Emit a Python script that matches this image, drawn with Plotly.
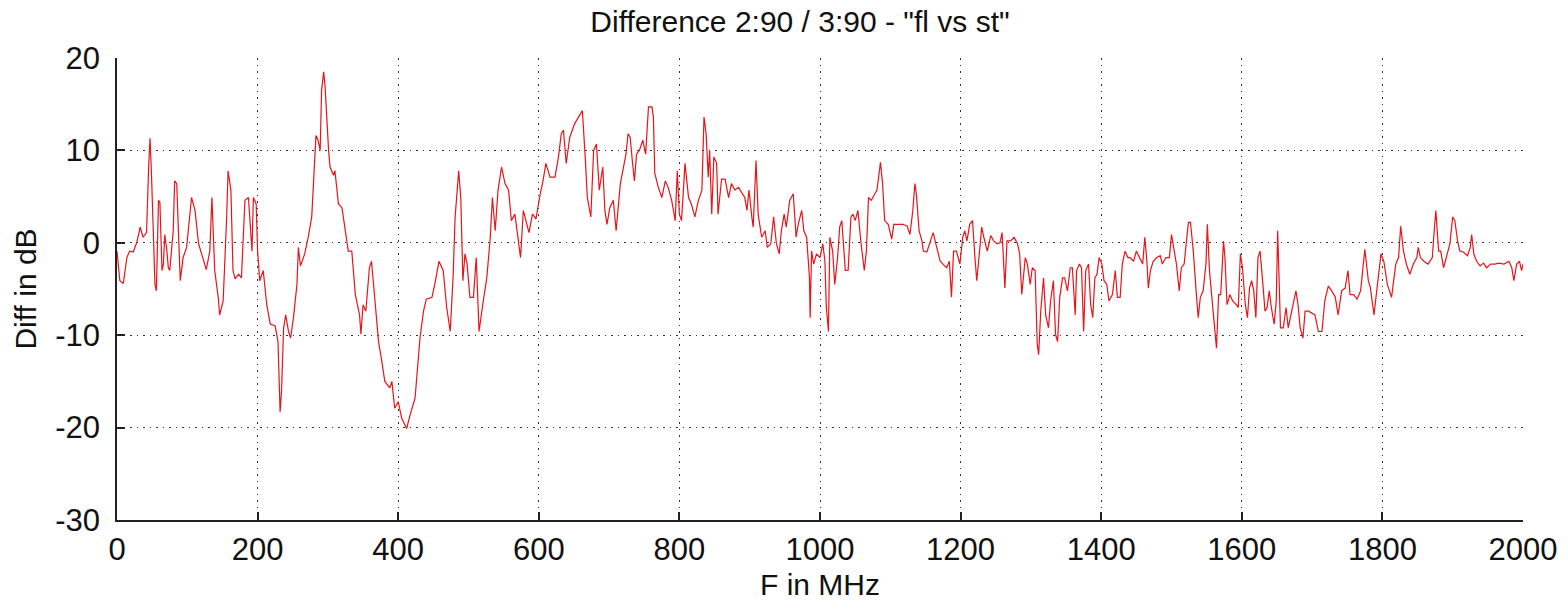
import plotly.graph_objects as go

# ---- data (MHz, dB) ----
freq_a = [0, 4, 9, 14, 18, 23, 28, 33, 37, 42,
          45, 47, 49, 52, 54, 56, 59, 61, 64, 66,
          68, 71, 73, 75, 80, 82, 85, 87, 90, 94,
          99, 106, 111, 116, 123, 127, 132, 135, 139, 144,
          146, 151, 156, 158, 162, 165, 168, 173, 177, 182,
          187, 192, 194, 198, 200, 203, 208, 213, 218, 225,
          229]
diff_a = [-0.9, -4.1, -4.4, -1.6, -0.9, -1.0, 0.0, 1.7, 0.6, 1.1,
          8.2, 11.3, 7.5, 0.6, -4.5, -5.2, 4.6, 4.4, -3.0, -2.3,
          0.9, -0.9, -2.7, -3.0, 1.3, 6.7, 6.4, 2.0, -4.1, -1.6,
          -0.5, 4.9, 3.5, -0.1, -2.0, -2.9, -0.9, 4.9, -3.0, -5.9,
          -7.8, -6.3, 2.8, 7.8, 5.7, -3.0, -3.9, -3.4, -3.8, 4.6,
          4.9, -0.9, 4.9, 4.2, -0.9, -4.1, -3.0, -6.7, -8.8, -9.0,
          -10.7]

freq_b = [232, 234, 237, 240, 244, 247, 251, 256, 258, 261,
          267, 272, 277, 279, 283, 286, 289, 291, 294, 296,
          298, 301, 303, 308, 310, 315, 320, 324, 329, 334,
          339, 345, 347, 350, 354, 359, 362, 367, 372, 376,
          381, 388, 391, 395, 400, 405, 412, 417, 424, 431,
          436, 440, 448, 452, 458, 464, 469]
diff_b = [-18.3, -16.1, -9.2, -7.8, -9.6, -10.3, -8.1, -4.5, -0.5, -2.5,
          -1.2, 0.6, 2.8, 5.7, 11.6, 11.1, 10.0, 16.5, 18.5, 16.9,
          13.6, 10.0, 8.2, 7.3, 7.8, 4.2, 3.8, 1.7, -0.9, -0.9,
          -5.6, -7.8, -9.9, -6.7, -7.4, -2.7, -2.0, -6.3, -10.7, -12.5,
          -15.0, -15.7, -15.0, -17.9, -17.2, -19.0, -20.1, -18.6, -16.8, -10.3,
          -7.4, -6.1, -5.9, -4.5, -2.0, -3.0, -7.0]

freq_c = [474, 478, 481, 486, 489, 492, 495, 498, 502, 507,
          511, 515, 521, 526, 531, 534, 538, 542, 547, 552,
          557, 561, 566, 571, 574, 578, 583, 586, 591, 596,
          602, 606, 610, 616, 623, 628, 632, 635, 639, 644,
          651, 659, 662, 666, 669, 674, 678, 682, 686, 691,
          694, 697, 701, 706, 710]
diff_c = [-9.6, -3.8, 2.8, 7.8, 4.9, -4.1, -1.2, -2.3, -5.9, -5.9,
          -1.6, -9.6, -6.3, -3.8, 0.6, 4.9, 1.3, 5.7, 8.2, 6.4,
          5.7, 2.4, 3.1, -0.1, -1.6, 3.5, 2.0, 1.1, 3.1, 2.6,
          5.3, 6.7, 8.6, 7.1, 7.1, 9.3, 11.8, 12.2, 8.6, 11.4,
          12.9, 14.0, 14.3, 9.3, 4.9, 2.8, 10.0, 10.7, 5.7, 8.2,
          3.5, 2.0, 3.8, 4.6, 1.3]

freq_d = [716, 720, 724, 727, 730, 733, 736, 739, 743, 748,
          752, 756, 761, 763, 765, 770, 775, 780, 784, 789,
          794, 797, 800, 803, 808, 813, 817, 822, 827, 832,
          835, 838, 841, 843, 846, 849, 853, 855, 860, 865,
          870, 874, 879, 884, 889, 893, 896, 899, 903, 905,
          909, 912, 917, 922, 925, 930, 934, 938, 942, 945,
          949, 952]
diff_d = [6.4, 8.2, 9.6, 11.8, 11.4, 8.9, 6.7, 9.6, 10.0, 11.1,
          9.6, 14.7, 14.7, 13.6, 7.5, 6.0, 4.9, 6.7, 6.0, 4.6,
          2.4, 7.8, 3.1, 2.4, 8.6, 4.9, 4.2, 2.8, 4.6, 5.7,
          13.6, 11.8, 7.1, 10.0, 3.1, 9.3, 8.6, 3.1, 6.9, 6.9,
          4.9, 6.4, 5.7, 6.0, 5.3, 4.9, 3.5, 5.7, 2.8, 1.7,
          8.9, 3.1, 0.6, 1.3, -0.5, -0.1, 2.8, -0.1, -1.2, 1.3,
          3.1, 1.7]

freq_e = [957, 962, 966, 969, 974, 977, 981, 985, 986, 988,
          991, 995, 1000, 1004, 1007, 1009, 1012, 1014, 1018, 1021,
          1025, 1028, 1031, 1033, 1036, 1040, 1044, 1047, 1050, 1054,
          1058, 1063, 1066, 1069, 1073, 1078, 1081, 1084, 1086, 1089,
          1092, 1097, 1102, 1105, 1111, 1118, 1124, 1128, 1132, 1135,
          1137, 1141, 1145, 1147, 1152, 1156, 1161, 1166, 1171, 1175,
          1180, 1184, 1187, 1190, 1194]
diff_e = [4.6, 5.3, 0.6, 2.0, 3.5, 1.3, 0.6, -3.8, -8.1, -0.9,
          -2.3, -1.2, -1.6, -0.1, -2.0, -7.0, -9.6, 0.6, -0.9, -4.5,
          -1.6, 1.7, 2.4, 0.6, -3.0, -3.0, 2.8, 3.1, 2.4, 3.5,
          0.2, -3.0, -0.9, 4.9, 4.6, 5.3, 5.7, 7.5, 8.7, 6.4,
          2.4, 2.0, 0.4, 2.0, 2.0, 2.0, 1.8, 0.9, 3.5, 6.4,
          5.3, 1.3, 0.2, -0.9, -1.0, -0.1, 1.1, -0.5, -2.0, -2.3,
          -2.7, -2.0, -5.9, -0.9, -0.9]

freq_f = [1199, 1203, 1206, 1209, 1213, 1217, 1220, 1223, 1227, 1230,
          1233, 1238, 1243, 1247, 1252, 1256, 1259, 1263, 1266, 1271,
          1276, 1281, 1284, 1287, 1292, 1295, 1299, 1302, 1306, 1309,
          1311, 1314, 1318, 1321, 1325, 1328, 1332, 1335, 1338, 1341,
          1345, 1348, 1352, 1356, 1359, 1363, 1365, 1369, 1372, 1375,
          1378, 1382, 1385, 1388, 1391, 1394, 1397, 1401, 1404, 1408,
          1411, 1416, 1420, 1423, 1427, 1430, 1434, 1438]
diff_f = [-2.3, 0.6, 1.3, 0.2, 2.0, 2.4, -1.2, -4.1, -0.9, 1.7,
          0.6, -0.9, 0.8, 0.2, -0.1, 0.0, 1.1, -4.9, 0.2, 0.2,
          0.6, -0.1, -1.2, -5.6, -1.6, -2.3, -4.5, -2.7, -3.0, -11.0,
          -12.1, -7.4, -3.8, -7.8, -9.2, -6.3, -4.1, -9.9, -10.7, -5.9,
          -3.8, -3.8, -5.2, -2.7, -2.7, -7.8, -3.0, -2.3, -2.7, -9.6,
          -3.0, -2.3, -6.7, -8.1, -3.8, -3.4, -1.6, -2.3, -4.1, -4.5,
          -6.3, -5.6, -3.0, -5.9, -5.9, -2.3, -0.9, -1.6]

freq_g = [1441, 1446, 1450, 1455, 1459, 1462, 1465, 1467, 1470, 1474,
          1479, 1484, 1487, 1492, 1497, 1500, 1504, 1507, 1511, 1514,
          1518, 1522, 1524, 1527, 1531, 1535, 1538, 1541, 1545, 1549,
          1551, 1554, 1557, 1560, 1564, 1567, 1570, 1574, 1576, 1579,
          1583, 1587, 1592, 1595, 1598, 1601, 1605, 1608, 1611, 1614,
          1617, 1620, 1623, 1626, 1630, 1633, 1636, 1639, 1642, 1646,
          1649, 1651, 1653, 1655, 1659, 1663, 1666, 1669, 1673, 1677,
          1680]
diff_g = [-1.6, -2.0, -0.9, -1.6, -2.3, 0.6, -2.0, -4.9, -3.0, -2.0,
          -1.6, -1.4, -2.3, -1.6, -1.6, 0.9, -0.9, -2.3, -5.2, -2.7,
          -2.3, 0.6, 2.2, 2.2, -0.9, -5.2, -8.1, -5.9, -5.2, -2.3,
          2.0, -3.0, -5.2, -8.1, -11.4, -5.6, -5.6, 0.2, -1.6, -6.7,
          -5.6, -6.3, -6.7, -7.0, -1.2, -2.7, -6.7, -8.1, -4.9, -4.1,
          -5.2, -8.1, -1.6, -0.9, -4.5, -7.4, -7.0, -5.2, -7.0, -8.8,
          -6.3, 1.3, -3.8, -9.2, -9.2, -7.0, -9.2, -8.1, -6.7, -5.2,
          -6.7]

freq_h = [1683, 1687, 1690, 1695, 1699, 1704, 1709, 1714, 1718, 1723,
          1728, 1733, 1737, 1742, 1747, 1751, 1754, 1759, 1764, 1769,
          1775, 1780, 1783, 1788, 1793, 1798, 1802, 1807, 1813, 1819,
          1823, 1826, 1830, 1834, 1839, 1844, 1849, 1851, 1854, 1859,
          1865, 1871, 1873, 1876, 1880, 1883, 1887, 1891, 1896, 1900,
          1903, 1907, 1910, 1915, 1921, 1925, 1927, 1930, 1934, 1939,
          1944, 1948, 1954, 1960, 1966, 1973, 1980, 1984, 1987, 1991,
          1995, 1998, 2000]
diff_h = [-9.2, -10.3, -7.4, -7.4, -7.6, -7.8, -9.6, -9.6, -6.3, -4.7,
          -5.2, -5.9, -7.8, -5.2, -4.9, -3.0, -5.6, -5.6, -6.1, -5.2,
          -0.7, -4.1, -4.9, -7.8, -4.5, -1.2, -2.0, -4.5, -5.9, -2.3,
          -1.6, 1.8, -0.9, -2.3, -3.4, -2.3, -1.6, -0.5, -1.6, -2.0,
          -2.3, -1.6, 0.6, 3.5, -0.9, -0.9, -2.7, -1.6, -0.1, 2.8,
          2.4, 0.2, -0.9, -1.0, -1.4, -0.5, 0.9, -1.2, -2.0, -2.5,
          -2.2, -2.7, -2.3, -2.3, -2.2, -2.3, -2.0, -2.7, -4.1, -2.3,
          -2.0, -3.0, -2.3]

x_ticks = [0, 200, 400, 600, 800, 1000, 1200, 1400, 1600, 1800, 2000]
y_ticks = [-30, -20, -10, 0, 10, 20]

freq_mhz = freq_a + freq_b + freq_c + freq_d + freq_e + freq_f + freq_g + freq_h
diff_db = diff_a + diff_b + diff_c + diff_d + diff_e + diff_f + diff_g + diff_h
assert len(freq_mhz) == len(diff_db), (len(freq_mhz), len(diff_db))

FONT = "Liberation Sans, Arial, sans-serif"

fig = go.Figure()
fig.add_trace(go.Scatter(
    x=freq_mhz, y=diff_db, mode="lines",
    line=dict(color="#e8141a", width=1.2),
    showlegend=False, hoverinfo="x+y",
))

axis_common = dict(
    showline=True, linecolor="#222222", linewidth=1.5,
    ticks="inside", ticklen=8, tickcolor="#222222", tickwidth=1.5,
    showgrid=True, gridcolor="#333333", gridwidth=1, griddash="1.5px,5px",
    zeroline=False, mirror=False, automargin=False,
    tickfont=dict(family=FONT, size=31, color="#111111"),
)

fig.update_xaxes(
    range=[0, 2000], tickvals=x_ticks, ticktext=[str(v) for v in x_ticks],
    title=dict(text="F in MHz", font=dict(family=FONT, size=30, color="#111111"), standoff=8),
    ticklabelstandoff=1,
    **axis_common,
)
fig.update_yaxes(
    range=[-30, 20], tickvals=y_ticks, ticktext=[str(v) for v in y_ticks],
    title=dict(text="Diff in dB", font=dict(family=FONT, size=30, color="#111111"), standoff=10),
    ticklabelstandoff=9,
    **axis_common,
)

fig.update_layout(
    width=1568, height=605,
    margin=dict(l=117, r=45, t=58, b=85, autoexpand=False),
    paper_bgcolor="white", plot_bgcolor="white",
    title=dict(
        text='Difference 2:90 / 3:90 - "fl vs st"',
        font=dict(family=FONT, size=30, color="#111111"),
        x=800 / 1568, xanchor="center", xref="container",
        y=1 - 21 / 605, yanchor="middle", yref="container",
    ),
)

fig.write_html("out.html")
